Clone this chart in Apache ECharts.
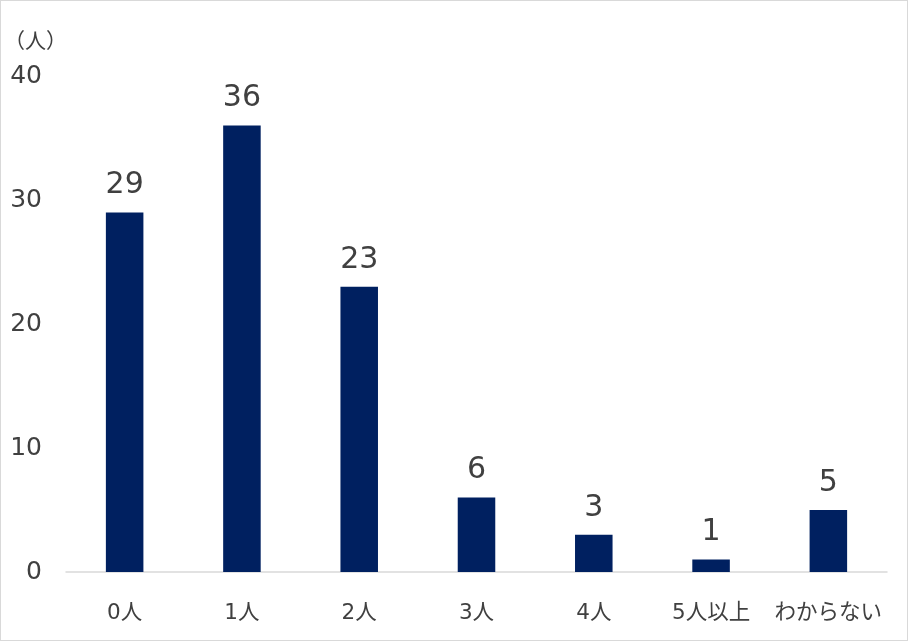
<!DOCTYPE html>
<html><head><meta charset="utf-8">
<script src="https://cdn.jsdelivr.net/npm/echarts@6/dist/echarts.min.js"></script>
<style>html,body{margin:0;padding:0;background:#fff}#c{width:908px;height:641px;box-sizing:border-box;border:1px solid #d9d9d9}</style>
</head><body><div id="c"></div>
<script>
const categories = ['0人','1人','2人','3人','4人','5人以上','わからない'];
const values = [29, 36, 23, 6, 3, 1, 5];
const unitLabel = '（人）';
const font = '"DejaVu Sans","Noto Sans CJK JP",sans-serif';
const chart = echarts.init(document.getElementById('c'));
chart.setOption({
  animation: false,
  textStyle: {fontFamily: font},
  title: {text: unitLabel, left: -2, top: 26, textStyle: {fontFamily: font, fontSize: 21, fontWeight: 'normal', color: '#404040'}},
  grid: {left: 65, right: 20, top: 75, bottom: 68, containLabel: false},
  xAxis: {type: 'category', data: categories,
    axisLine: {lineStyle: {color: '#d9d9d9', width: 1.5}}, axisTick: {show: false},
    axisLabel: {interval: 0, fontFamily: font, fontSize: 21.5, color: '#404040', margin: 31}},
  yAxis: {type: 'value', min: 0, max: 40, interval: 10,
    splitLine: {show: false}, axisLine: {show: false}, axisTick: {show: false},
    axisLabel: {fontFamily: font, fontSize: 25, color: '#404040', margin: 24}},
  series: [{type: 'bar', data: values, barWidth: '32%', itemStyle: {color: '#002060'},
    label: {show: true, position: 'top', distance: 12, fontFamily: font, fontSize: 30, color: '#404040'}}]
});
</script></body></html>
